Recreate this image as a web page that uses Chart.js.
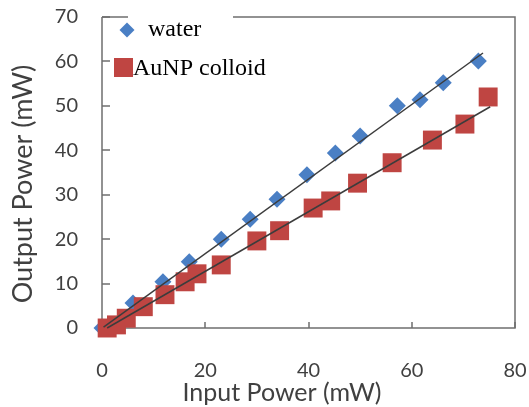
<!DOCTYPE html>
<html><head><meta charset="utf-8">
<script src="https://cdn.jsdelivr.net/npm/chart.js@4/dist/chart.umd.min.js"></script>
<style>html,body{margin:0;padding:0;background:#fff;}#wrap{width:529px;height:407px;position:relative;overflow:hidden}</style>
</head><body><div id="wrap"><canvas id="c" width="529" height="407"></canvas></div>
<script>
// ---- data ----
const waterX = [0, 6.0, 11.8, 16.9, 23.1, 28.7, 33.9, 39.7, 45.2, 50.0, 57.2, 61.6, 66.1, 72.9];
const waterY = [0, 5.6, 10.4, 14.9, 20.0, 24.5, 29.0, 34.5, 39.4, 43.2, 50.0, 51.4, 55.2, 60.1];
const aunpX = [1.0, 2.8, 4.7, 8.0, 12.2, 16.1, 18.4, 23.1, 30.0, 34.4, 40.9, 44.3, 49.5, 56.2, 64.0, 70.3, 74.8];
const aunpY = [0, 0.7, 2.2, 4.8, 7.5, 10.4, 12.2, 14.2, 19.6, 21.9, 27.0, 28.6, 32.6, 37.2, 42.3, 45.9, 52.0];
const waterFitX = [0.3, 73.8];
const waterFitY = [0.2, 61.9];
const aunpFitX = [1.0, 75.2];
const aunpFitY = [0.0, 49.8];
const xTicks = [0, 20, 40, 60, 80];
const yTicks = [0, 10, 20, 30, 40, 50, 60, 70];
const seriesNames = ['water', 'AuNP colloid'];
const xTitle = 'Input Power (mW)';
const yTitle = 'Output Power (mW)';

const BLUE = '#4a7fc4';
const RED = '#bf4542';
const GRAY = '#404040';
const FRAME = '#6f6f6f';
const SANS = 'Lato, "Open Sans", sans-serif';

const pts = (xs, ys) => xs.map((x, i) => ({x, y: ys[i]}));

const framePlugin = {
  id: 'frame',
  beforeDatasetsDraw(chart) {
    const {ctx, chartArea: a, scales: {x, y}} = chart;
    ctx.save();
    ctx.strokeStyle = FRAME;
    ctx.lineWidth = 1.5;
    ctx.beginPath();
    ctx.moveTo(a.left, a.top); ctx.lineTo(a.left, a.bottom); ctx.lineTo(a.right, a.bottom); ctx.lineTo(a.right, a.top);
    ctx.lineTo(a.left, a.top);
    ctx.stroke();
    // inward ticks
    ctx.beginPath();
    yTicks.forEach(v => { const py = Math.round(y.getPixelForValue(v)); ctx.moveTo(a.left, py); ctx.lineTo(a.left + 8, py); });
    xTicks.forEach(v => { const px = Math.round(x.getPixelForValue(v)); ctx.moveTo(px, a.bottom); ctx.lineTo(px, a.bottom - 6); });
    ctx.stroke();
    ctx.restore();
  },
  afterDraw(chart) {
    const {ctx, chartArea: a} = chart;
    ctx.save();
    // legend box gap in top border
    ctx.fillStyle = '#fff';
    ctx.fillRect(128, a.top - 3, 105, 6);
    // legend entries
    ctx.fillStyle = BLUE;
    ctx.beginPath();
    ctx.moveTo(127, 22.5); ctx.lineTo(134.5, 30); ctx.lineTo(127, 37.5); ctx.lineTo(119.5, 30); ctx.closePath();
    ctx.fill();
    ctx.fillStyle = RED;
    ctx.fillRect(114, 58, 19, 19);
    ctx.fillStyle = '#000';
    ctx.font = '24px "Liberation Serif", "Times New Roman", serif';
    ctx.textBaseline = 'alphabetic';
    ctx.textAlign = 'left';
    ctx.fillText(seriesNames[0], 148, 36);
    ctx.fillText(seriesNames[1], 133, 75);
    // axis titles
    ctx.fillStyle = GRAY;
    ctx.textAlign = 'center';
    ctx.textBaseline = 'alphabetic';
    ctx.font = '25px ' + SANS;
    ctx.fillText(xTitle, 282, 401);
    ctx.font = '27px ' + SANS;
    ctx.save();
    ctx.translate(32, 184);
    ctx.rotate(-Math.PI / 2);
    ctx.fillText(yTitle, 0, 0);
    ctx.restore();
    ctx.restore();
  }
};

new Chart(document.getElementById('c'), {
  type: 'scatter',
  data: {
    datasets: [
      {label: 'water fit', data: pts(waterFitX, waterFitY), showLine: true, borderColor: '#3c3c3c', borderWidth: 1.5, pointRadius: 0, order: 0, clip: false},
      {label: 'AuNP fit', data: pts(aunpFitX, aunpFitY), showLine: true, borderColor: '#3c3c3c', borderWidth: 1.5, pointRadius: 0, order: 0, clip: false},
      {label: seriesNames[1], data: pts(aunpX, aunpY), pointStyle: 'rect', pointRadius: 13.4, backgroundColor: RED, borderWidth: 0, order: 1, clip: false},
      {label: seriesNames[0], data: pts(waterX, waterY), pointStyle: 'rectRot', pointRadius: 8.5, backgroundColor: BLUE, borderWidth: 0, order: 2, clip: false}
    ]
  },
  options: {
    responsive: false,
    animation: false,
    devicePixelRatio: 1,
    layout: {padding: {top: 17, right: 14, left: 0, bottom: 0}},
    plugins: {legend: {display: false}, tooltip: {enabled: false}},
    scales: {
      x: {
        type: 'linear', min: 0, max: 80,
        afterBuildTicks: s => { s.ticks = xTicks.map(v => ({value: v})); },
        afterFit: s => { s.height = 79; s.paddingLeft = 0; s.paddingRight = 0; },
        grid: {display: false, drawTicks: false},
        border: {display: false},
        ticks: {padding: 31, color: GRAY, font: {family: SANS, size: 20}}
      },
      y: {
        type: 'linear', min: 0, max: 70,
        afterBuildTicks: s => { s.ticks = yTicks.map(v => ({value: v})); },
        afterFit: s => { s.width = 102; s.paddingTop = 0; s.paddingBottom = 0; },
        grid: {display: false, drawTicks: false},
        border: {display: false},
        ticks: {padding: 24, color: GRAY, font: {family: SANS, size: 20}}
      }
    }
  },
  plugins: [framePlugin]
});
</script>
</body></html>
